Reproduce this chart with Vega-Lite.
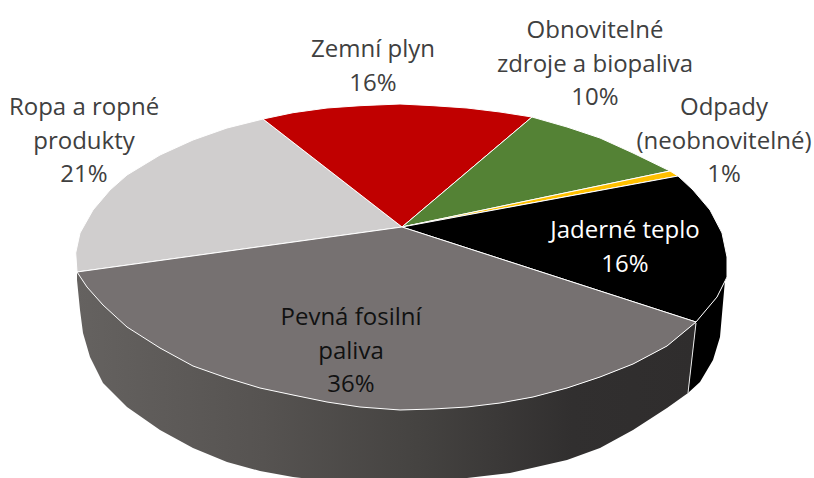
{"$schema":"https://vega.github.io/schema/vega-lite/v6.json","width":814,"height":478,"padding":0,"autosize":{"type":"none"},"background":"white","view":{"stroke":null},
"datasets":{
"side":[
{"slice":"Pevná fosilní paliva","o":1,"x":696,"y":322},{"slice":"Pevná fosilní paliva","o":2,"x":667,"y":346},{"slice":"Pevná fosilní paliva","o":3,"x":633,"y":364},{"slice":"Pevná fosilní paliva","o":4,"x":600,"y":377},{"slice":"Pevná fosilní paliva","o":5,"x":567,"y":388},{"slice":"Pevná fosilní paliva","o":6,"x":533,"y":397},{"slice":"Pevná fosilní paliva","o":7,"x":500,"y":403},{"slice":"Pevná fosilní paliva","o":8,"x":400,"y":410},{"slice":"Pevná fosilní paliva","o":9,"x":293,"y":395},{"slice":"Pevná fosilní paliva","o":10,"x":227,"y":378},{"slice":"Pevná fosilní paliva","o":11,"x":160,"y":348},{"slice":"Pevná fosilní paliva","o":12,"x":103,"y":305},{"slice":"Pevná fosilní paliva","o":13,"x":77,"y":272},{"slice":"Pevná fosilní paliva","o":14,"x":77,"y":280},{"slice":"Pevná fosilní paliva","o":15,"x":80,"y":310},{"slice":"Pevná fosilní paliva","o":16,"x":83,"y":333},{"slice":"Pevná fosilní paliva","o":17,"x":90,"y":357},{"slice":"Pevná fosilní paliva","o":18,"x":103,"y":383},{"slice":"Pevná fosilní paliva","o":19,"x":127,"y":407},{"slice":"Pevná fosilní paliva","o":20,"x":160,"y":430},{"slice":"Pevná fosilní paliva","o":21,"x":193,"y":448},{"slice":"Pevná fosilní paliva","o":22,"x":227,"y":462},{"slice":"Pevná fosilní paliva","o":23,"x":260,"y":471},{"slice":"Pevná fosilní paliva","o":24,"x":293,"y":477},{"slice":"Pevná fosilní paliva","o":25,"x":327,"y":481},{"slice":"Pevná fosilní paliva","o":26,"x":360,"y":483},{"slice":"Pevná fosilní paliva","o":27,"x":400,"y":484},{"slice":"Pevná fosilní paliva","o":28,"x":433,"y":482},{"slice":"Pevná fosilní paliva","o":29,"x":467,"y":478},{"slice":"Pevná fosilní paliva","o":30,"x":510,"y":473},{"slice":"Pevná fosilní paliva","o":31,"x":567,"y":460},{"slice":"Pevná fosilní paliva","o":32,"x":600,"y":448},{"slice":"Pevná fosilní paliva","o":33,"x":633,"y":430},{"slice":"Pevná fosilní paliva","o":34,"x":667,"y":408},{"slice":"Pevná fosilní paliva","o":35,"x":688,"y":393}],
"sideBlack":[
{"slice":"Jaderné teplo","o":1,"x":696,"y":322},{"slice":"Jaderné teplo","o":2,"x":717,"y":297},{"slice":"Jaderné teplo","o":3,"x":727,"y":277},{"slice":"Jaderné teplo","o":4,"x":725,"y":280},{"slice":"Jaderné teplo","o":5,"x":720,"y":337},{"slice":"Jaderné teplo","o":6,"x":713,"y":360},{"slice":"Jaderné teplo","o":7,"x":700,"y":382},{"slice":"Jaderné teplo","o":8,"x":688,"y":393}],
"divider":[{"o":1,"x":696,"y":323},{"o":2,"x":688,"y":393}],
"top":[
{"slice":"Ropa a ropné produkty","o":0,"x":402,"y":227},{"slice":"Ropa a ropné produkty","o":1,"x":77,"y":272},{"slice":"Ropa a ropné produkty","o":2,"x":75.7,"y":253},{"slice":"Ropa a ropné produkty","o":3,"x":80,"y":233},{"slice":"Ropa a ropné produkty","o":4,"x":93,"y":210},{"slice":"Ropa a ropné produkty","o":5,"x":110,"y":190},{"slice":"Ropa a ropné produkty","o":6,"x":127,"y":175},{"slice":"Ropa a ropné produkty","o":7,"x":160,"y":155},{"slice":"Ropa a ropné produkty","o":8,"x":193,"y":140},{"slice":"Ropa a ropné produkty","o":9,"x":227,"y":128},{"slice":"Ropa a ropné produkty","o":10,"x":263,"y":119},
{"slice":"Zemní plyn","o":0,"x":402,"y":227},{"slice":"Zemní plyn","o":1,"x":263,"y":119},{"slice":"Zemní plyn","o":2,"x":293,"y":112.7},{"slice":"Zemní plyn","o":3,"x":327,"y":108},{"slice":"Zemní plyn","o":4,"x":360,"y":105.7},{"slice":"Zemní plyn","o":5,"x":400,"y":104},{"slice":"Zemní plyn","o":6,"x":433,"y":105.7},{"slice":"Zemní plyn","o":7,"x":467,"y":108},{"slice":"Zemní plyn","o":8,"x":500,"y":112},{"slice":"Zemní plyn","o":9,"x":532,"y":117},
{"slice":"Obnovitelné zdroje a biopaliva","o":0,"x":402,"y":227},{"slice":"Obnovitelné zdroje a biopaliva","o":1,"x":532,"y":117},{"slice":"Obnovitelné zdroje a biopaliva","o":2,"x":567,"y":127},{"slice":"Obnovitelné zdroje a biopaliva","o":3,"x":600,"y":138},{"slice":"Obnovitelné zdroje a biopaliva","o":4,"x":633,"y":153},{"slice":"Obnovitelné zdroje a biopaliva","o":5,"x":670,"y":171},
{"slice":"Odpady (neobnovitelné)","o":0,"x":402,"y":227},{"slice":"Odpady (neobnovitelné)","o":1,"x":670,"y":171},{"slice":"Odpady (neobnovitelné)","o":2,"x":678,"y":176},
{"slice":"Jaderné teplo","o":0,"x":402,"y":227},{"slice":"Jaderné teplo","o":1,"x":678,"y":176},{"slice":"Jaderné teplo","o":2,"x":693,"y":190},{"slice":"Jaderné teplo","o":3,"x":710,"y":210},{"slice":"Jaderné teplo","o":4,"x":722,"y":233},{"slice":"Jaderné teplo","o":5,"x":727,"y":257},{"slice":"Jaderné teplo","o":6,"x":727,"y":277},{"slice":"Jaderné teplo","o":7,"x":717,"y":297},{"slice":"Jaderné teplo","o":8,"x":696,"y":322},
{"slice":"Pevná fosilní paliva","o":0,"x":402,"y":227},{"slice":"Pevná fosilní paliva","o":1,"x":696,"y":322},{"slice":"Pevná fosilní paliva","o":2,"x":667,"y":346},{"slice":"Pevná fosilní paliva","o":3,"x":633,"y":364},{"slice":"Pevná fosilní paliva","o":4,"x":600,"y":377},{"slice":"Pevná fosilní paliva","o":5,"x":567,"y":388},{"slice":"Pevná fosilní paliva","o":6,"x":533,"y":397},{"slice":"Pevná fosilní paliva","o":7,"x":500,"y":403},{"slice":"Pevná fosilní paliva","o":8,"x":467,"y":407},{"slice":"Pevná fosilní paliva","o":9,"x":433,"y":409},{"slice":"Pevná fosilní paliva","o":10,"x":400,"y":410},{"slice":"Pevná fosilní paliva","o":11,"x":360,"y":407},{"slice":"Pevná fosilní paliva","o":12,"x":327,"y":402},{"slice":"Pevná fosilní paliva","o":13,"x":293,"y":395},{"slice":"Pevná fosilní paliva","o":14,"x":260,"y":388},{"slice":"Pevná fosilní paliva","o":15,"x":227,"y":378},{"slice":"Pevná fosilní paliva","o":16,"x":193,"y":366},{"slice":"Pevná fosilní paliva","o":17,"x":160,"y":348},{"slice":"Pevná fosilní paliva","o":18,"x":127,"y":327},{"slice":"Pevná fosilní paliva","o":19,"x":103,"y":305},{"slice":"Pevná fosilní paliva","o":20,"x":87,"y":287},{"slice":"Pevná fosilní paliva","o":21,"x":77,"y":272}],
"labels":[
{"label":"Ropa a ropné\nprodukty\n21%","x":84,"y":108,"tone":"outer"},
{"label":"Zemní plyn\n16%","x":373,"y":50,"tone":"outer"},
{"label":"Obnovitelné\nzdroje a biopaliva\n10%","x":595,"y":31,"tone":"outer"},
{"label":"Odpady\n(neobnovitelné)\n1%","x":724,"y":108,"tone":"outer"},
{"label":"Jaderné teplo\n16%","x":625,"y":231,"tone":"onBlack"},
{"label":"Pevná fosilní\npaliva\n36%","x":351,"y":318,"tone":"onGrey"}]},
"encoding":{
"x":{"field":"x","type":"quantitative","axis":null,"scale":{"domain":[0,814],"nice":false,"zero":false}},
"y":{"field":"y","type":"quantitative","axis":null,"scale":{"domain":[478,0],"nice":false,"zero":false}}},
"layer":[
{"data":{"name":"side"},"mark":{"type":"line","interpolate":"linear-closed","clip":true,"strokeWidth":0,"fill":{"gradient":"linear","x1":0,"y1":0,"x2":1,"y2":0,"stops":[{"offset":0,"color":"#656260"},{"offset":0.3,"color":"#565351"},{"offset":0.55,"color":"#454341"},{"offset":0.8,"color":"#312f2f"},{"offset":1,"color":"#2f2d2d"}]}},"encoding":{"order":{"field":"o","type":"quantitative"}}},
{"data":{"name":"sideBlack"},"mark":{"type":"line","interpolate":"linear-closed","strokeWidth":0,"fill":"#000000"},"encoding":{"order":{"field":"o","type":"quantitative"}}},
{"data":{"name":"divider"},"mark":{"type":"line","stroke":"#e8e8e8","strokeWidth":1},"encoding":{"order":{"field":"o","type":"quantitative"}}},
{"data":{"name":"top"},"mark":{"type":"line","interpolate":"linear-closed","stroke":"#ffffff","strokeWidth":1},"encoding":{"detail":{"field":"slice"},"order":{"field":"o","type":"quantitative"},"fill":{"field":"slice","type":"nominal","legend":null,"scale":{"domain":["Ropa a ropné produkty","Zemní plyn","Obnovitelné zdroje a biopaliva","Odpady (neobnovitelné)","Jaderné teplo","Pevná fosilní paliva"],"range":["#d0cece","#c00000","#548235","#ffc000","#000000","#767171"]}}}},
{"data":{"name":"labels"},"mark":{"type":"text","font":"Open Sans","fontSize":24,"lineBreak":"\n","lineHeight":33.5,"align":"center","baseline":"middle"},"encoding":{"text":{"field":"label"},"color":{"field":"tone","type":"nominal","legend":null,"scale":{"domain":["outer","onBlack","onGrey"],"range":["#404040","#ffffff","#111111"]}}}}
]}
